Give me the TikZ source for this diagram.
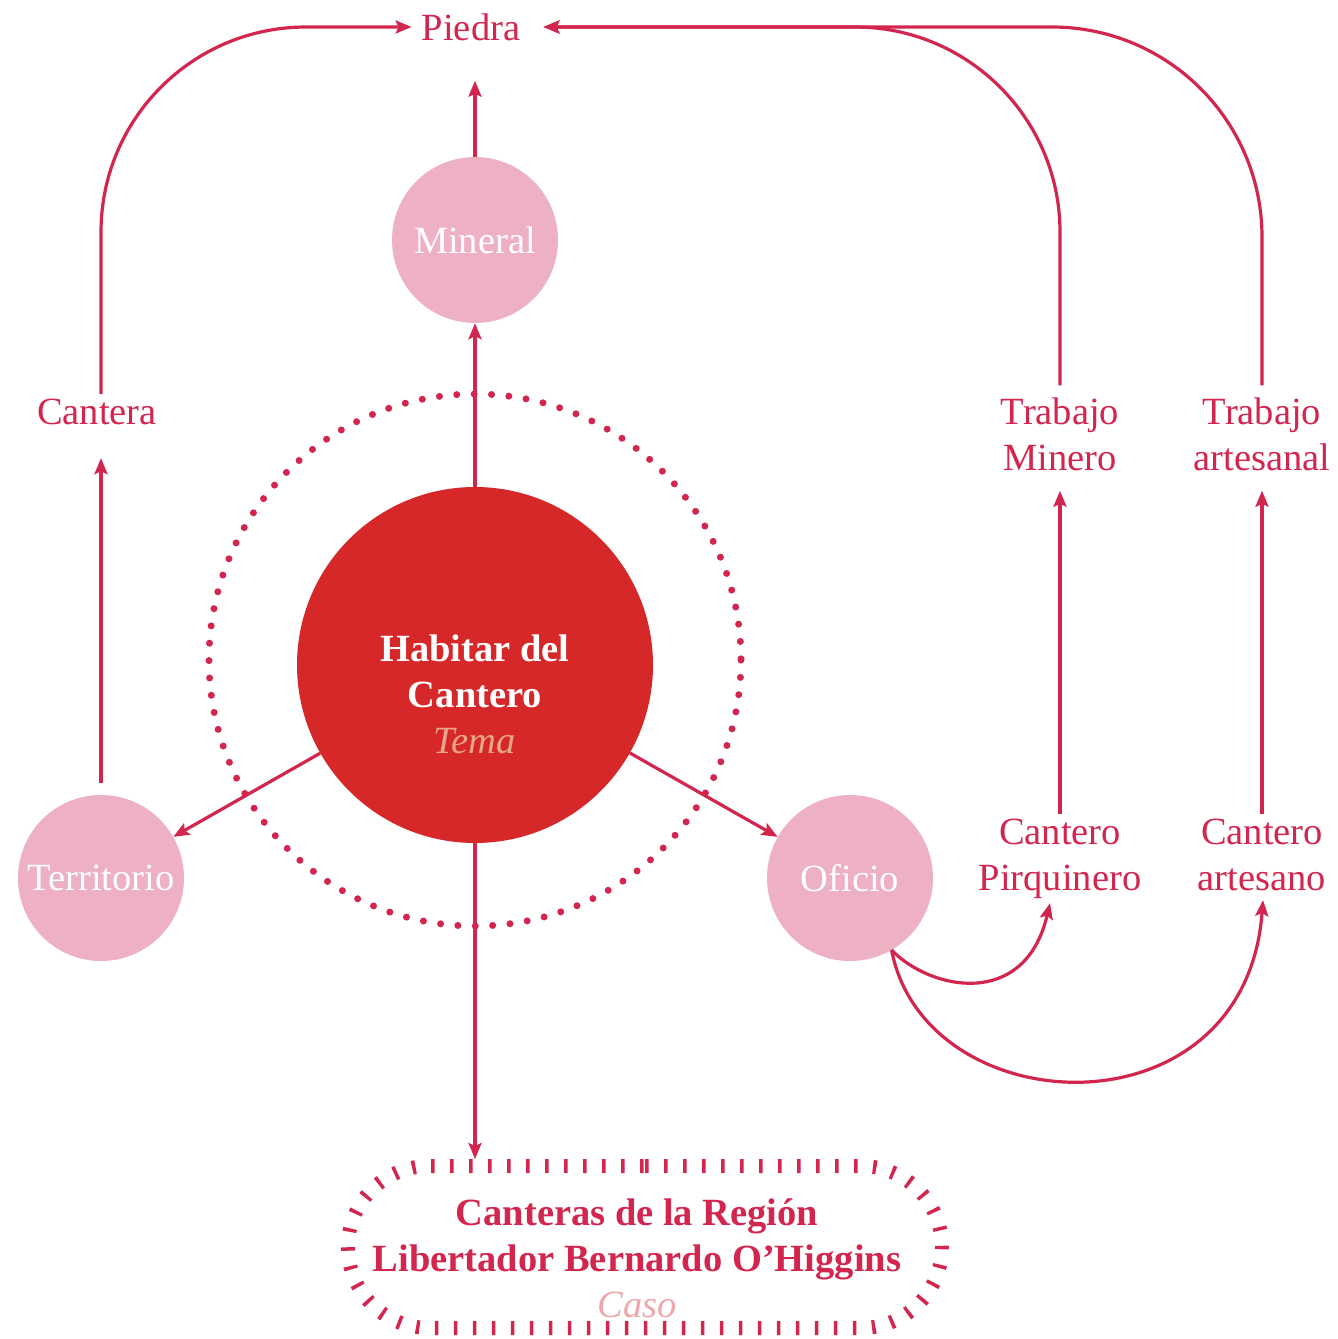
\documentclass[tikz,border=0pt]{standalone}
\usepackage{fontspec}
\setmainfont{Liberation Serif}
\usetikzlibrary{arrows.meta,shapes.misc,calc}
\definecolor{crim}{HTML}{D3264F}
\definecolor{pinkc}{HTML}{EDB1C3}
\definecolor{redc}{HTML}{D62828}
\definecolor{temac}{HTML}{E9A48C}
\definecolor{casoc}{HTML}{EEA7AA}
\begin{document}
\begin{tikzpicture}[x=1pt,y=-1pt,
  lbl/.style={text=crim, font=\fontsize{38.5}{46}\selectfont, align=center, inner sep=0pt},
  bubble/.style={circle, fill=pinkc, minimum size=166pt, inner sep=0pt, text=white, font=\fontsize{38.5}{46}\selectfont},
  conn/.style={draw=crim, line width=3.2pt, -{Stealth[length=16pt,width=13pt,inset=3pt]}}]
\useasboundingbox (0,0) rectangle (1338,1339);

% dotted ring
\draw[crim, line width=7pt, line cap=round, dash pattern=on 0pt off 17.4pt] (475,660) circle[radius=266];

% nodes
\node[circle, fill=redc, minimum size=356pt, inner sep=0pt] (tema) at (475,665) {};
\node[text=white, font=\bfseries\fontsize{38.5}{46}\selectfont, align=center, inner sep=0pt] (temalbl) at (475,694) {Habitar del\\Cantero\\{\mdseries\itshape\color{temac}Tema}};
\node[bubble] (mineral) at (475,240) {Mineral};
\node[bubble] (terr) at (101,878) {Territorio};
\node[bubble] (oficio) at (850,878) {Oficio};

\node[lbl] (piedra) at (471,27) {Piedra};
\node[lbl] (cantera) at (97,412) {Cantera};
\node[lbl] (tmin) at (1060,434) {Trabajo\\Minero};
\node[lbl] (tart) at (1262,434) {Trabajo\\artesanal};
\node[lbl] (cpir) at (1060,859) {Cantero\\Pirquinero};
\node[lbl] (cart) at (1262,855) {Cantero\\artesano};

\node[rounded rectangle, draw=crim, line width=14pt, dash pattern=on 3.5pt off 15.5pt, minimum width=594pt, minimum height=162pt, inner sep=0pt] (casobox) at (645,1247) {};
\node[lbl, font=\bfseries\fontsize{38.5}{46}\selectfont] (casotxt) at (637,1258) {Canteras de la Región\\Libertador Bernardo O’Higgins\\{\mdseries\itshape\color{casoc}Caso}};

% connectors
\draw[conn] (tema) -- (mineral);
\draw[conn, shorten >=40pt] (mineral.north) -- (mineral.north |- piedra.south);
\draw[conn] (tema) -- (terr);
\draw[conn] (tema) -- (oficio);
\draw[conn] (tema.south) -- (tema.south |- casobox.north);
\draw[conn, shorten <=12pt, shorten >=33pt] (terr.north) -- (terr.north |- cantera.south);
\draw[conn, rounded corners=205pt, shorten <=5pt, shorten >=10pt] (terr.north |- cantera.north) |- (piedra.west);
\draw[conn, rounded corners=205pt, shorten <=12pt, shorten >=23pt] (tmin.north) |- (piedra.east);
\draw[conn, rounded corners=210pt, shorten <=12pt, shorten >=23pt] (tart.north) |- (piedra.east);
\draw[conn, shorten <=5pt, shorten >=20pt] (cpir.north) -- (tmin.south);
\draw[conn, shorten <=5pt, shorten >=20pt] (cart.north) -- (tart.south);
\draw[conn] (oficio.-60) .. controls (930,990) and (1025,1010) .. ($(cpir.south)+(-10,4)$);
\draw[conn] (oficio.-60) .. controls (925,1125) and (1245,1140) .. ($(cart.south)+(1,9)$);
\end{tikzpicture}
\end{document}
